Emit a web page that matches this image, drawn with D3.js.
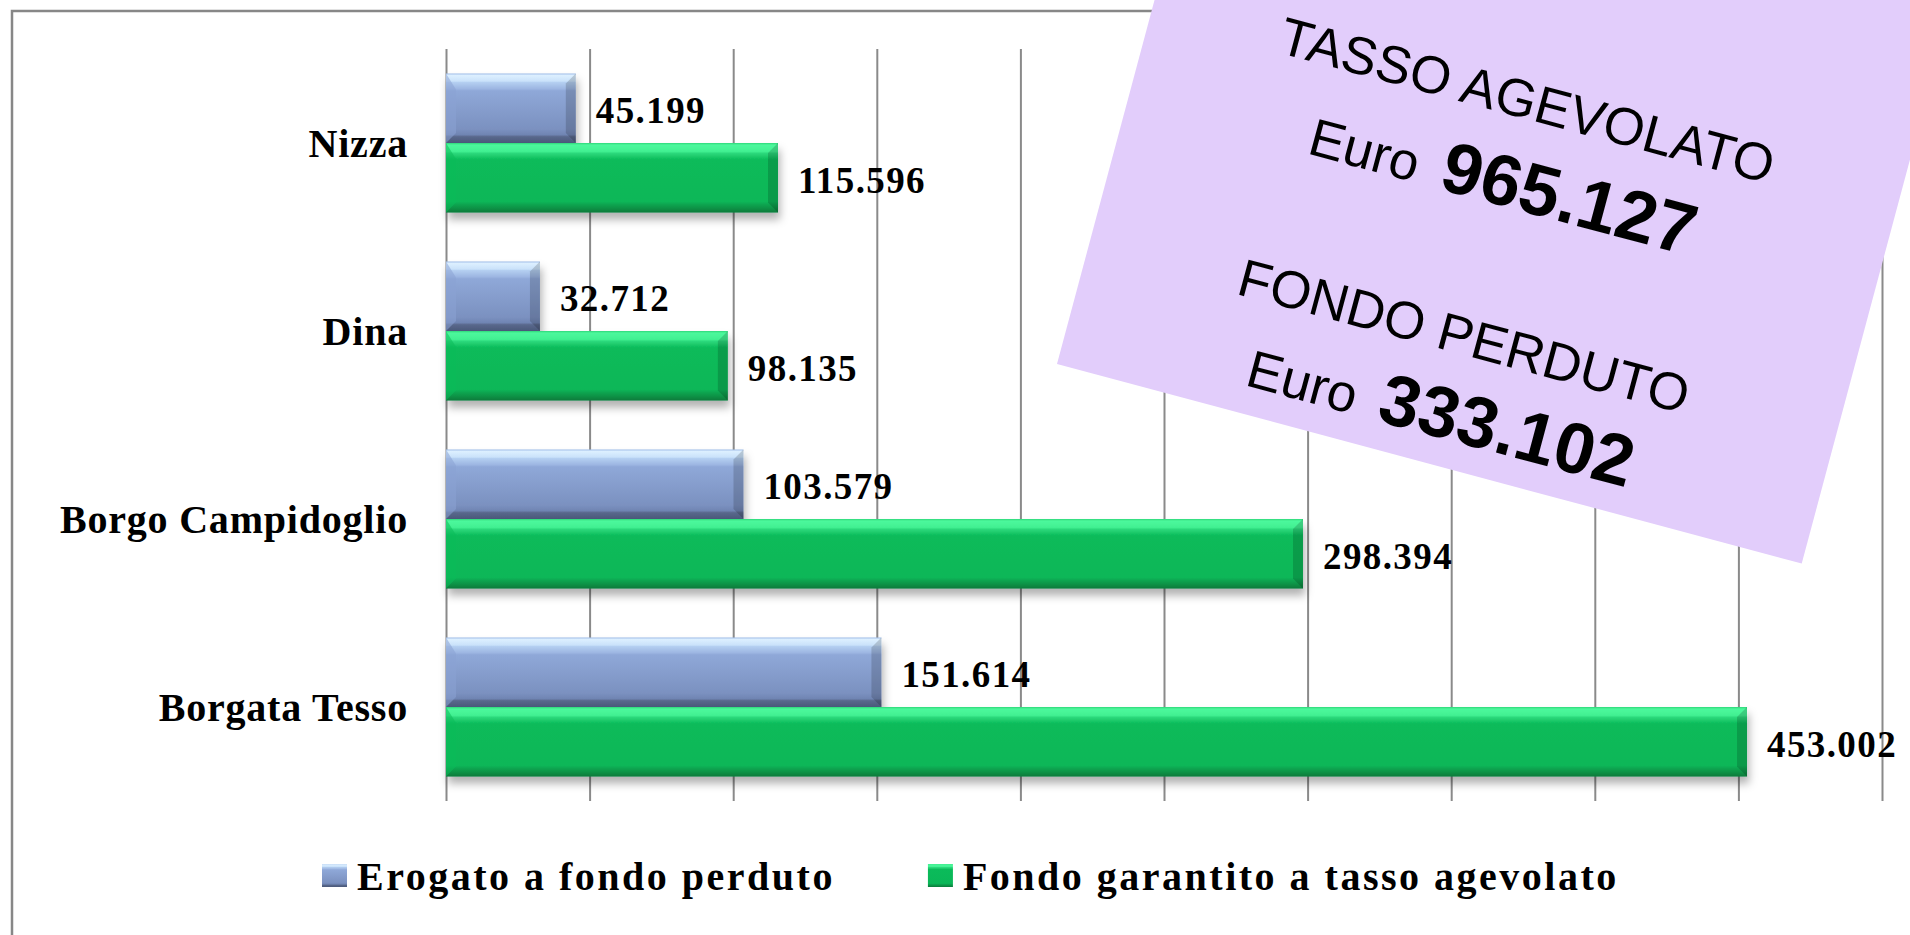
<!DOCTYPE html>
<html>
<head>
<meta charset="utf-8">
<script src="https://cdn.jsdelivr.net/npm/d3@7"></script>
<style>
  html, body { margin: 0; padding: 0; background: #fff; overflow: hidden; }
  svg { display: block; }
</style>
</head>
<body>
<svg id="chart" width="1910" height="935"></svg>
<script>
// data (euro)
const categories = ['Nizza', 'Dina', 'Borgo Campidoglio', 'Borgata Tesso'];
const seriesNames = ['Erogato a fondo perduto', 'Fondo garantito a tasso agevolato'];
const fondoPerduto = [45199, 32712, 103579, 151614];
const tassoAgevolato = [115596, 98135, 298394, 453002];
const xMax = 500000;

// callout text
const calloutTitles = ['TASSO AGEVOLATO', 'FONDO PERDUTO'];
const calloutTotals = ['965.127', '333.102'];

const svg = d3.select('#chart');
const itFmt = d3.formatLocale({decimal: ',', thousands: '.', grouping: [3], currency: ['€', '']}).format(',d');

const x = d3.scaleLinear().domain([0, xMax]).range([446, 1882]);
const y = d3.scaleBand().domain(categories).range([49, 801]).paddingInner(0.26).paddingOuter(0.13);
const ys = d3.scaleBand().domain(seriesNames).range([0, y.bandwidth()]);

const serifFont = '"Liberation Serif", "Times New Roman", serif';

// gradients + shadow
const defs = svg.append('defs');
const grads = [
  {id: 'gBlue', stops: [[0,'#a3bfe8'],[3,'#dcefff'],[11,'#cae2fa'],[13,'#b4cff1'],[22,'#9db6e2'],[25,'#8fa8d8'],[80,'#7b91c0'],[88,'#7085b3'],[91,'#58688c'],[100,'#4b597a']]},
  {id: 'gGreen', stops: [[0,'#2fd87a'],[3,'#4cf89c'],[12,'#42f092'],[15,'#2bd87b'],[21,'#16c565'],[24,'#0bbb5a'],[84,'#0ab758'],[88,'#0ca651'],[94,'#0a9145'],[100,'#0a7a3b']]}
];
grads.forEach(g => {
  defs.append('linearGradient').attr('id', g.id).attr('x1', 0).attr('y1', 0).attr('x2', 0).attr('y2', 1)
    .selectAll('stop').data(g.stops).join('stop')
    .attr('offset', d => d[0] + '%').attr('stop-color', d => d[1]);
});
const seriesFill = ['url(#gBlue)', 'url(#gGreen)'];
const seriesMid = ['#8ba3d3', '#0bbb5a'];

const f = defs.append('filter').attr('id', 'shadow').attr('x', '-5%').attr('y', '-20%').attr('width', '115%').attr('height', '160%');
f.append('feDropShadow').attr('dx', 2).attr('dy', 7).attr('stdDeviation', 4)
  .attr('flood-color', '#000').attr('flood-opacity', 0.3);

// outer frame
svg.append('rect').attr('x', 12).attr('y', 11).attr('width', 2200).attr('height', 2000)
  .attr('fill', 'none').attr('stroke', '#878787').attr('stroke-width', 2.5);

// vertical gridlines
const grid = svg.append('g').attr('transform', 'translate(0,49)')
  .call(d3.axisTop(x).ticks(10).tickSize(-(801 - 49)).tickFormat(''));
grid.select('.domain').remove();
grid.selectAll('.tick line').attr('stroke', '#8a8a8a').attr('stroke-width', 2);

// bars
const bars = categories.flatMap((c, i) => [
  {c, s: 0, v: fondoPerduto[i]},
  {c, s: 1, v: tassoAgevolato[i]}
]);

const bg = svg.append('g').selectAll('g').data(bars).join('g');
bg.append('rect')
  .attr('x', x(0)).attr('y', d => y(d.c) + ys(seriesNames[d.s]))
  .attr('width', d => x(d.v) - x(0)).attr('height', ys.bandwidth())
  .attr('fill', d => seriesFill[d.s]).attr('filter', 'url(#shadow)');
const bv = 10;
// right bevel
bg.append('polygon').attr('points', d => {
  const x1 = x(d.v), y0 = y(d.c) + ys(seriesNames[d.s]), y1 = y0 + ys.bandwidth();
  return [[x1 - bv, y0 + bv], [x1, y0], [x1, y1], [x1 - bv, y1 - bv]].join(' ');
}).attr('fill', '#000').attr('opacity', 0.16);
// left bevel
bg.append('polygon').attr('points', d => {
  const x0 = x(0), y0 = y(d.c) + ys(seriesNames[d.s]), y1 = y0 + ys.bandwidth();
  return [[x0, y0], [x0 + bv, y0 + bv * 1.6], [x0 + bv, y1 - bv], [x0, y1]].join(' ');
}).attr('fill', d => seriesMid[d.s]).attr('opacity', 0.55);

// value labels
svg.append('g').selectAll('text').data(bars).join('text')
  .attr('x', d => x(d.v) + 20)
  .attr('y', d => y(d.c) + ys(seriesNames[d.s]) + ys.bandwidth() / 2)
  .attr('dy', '0.4em')
  .attr('font-family', serifFont).attr('font-size', 37).attr('font-weight', 'bold')
  .attr('letter-spacing', 1.4).attr('fill', '#000')
  .text(d => itFmt(d.v));

// category labels
const yAxis = svg.append('g').attr('transform', `translate(${x(0)},0)`)
  .call(d3.axisLeft(y).tickSize(0).tickPadding(38));
yAxis.select('.domain').remove();
yAxis.selectAll('text')
  .attr('font-family', serifFont).attr('font-size', 40).attr('font-weight', 'bold')
  .attr('letter-spacing', 0.8).attr('fill', '#000').attr('dy', '0.35em');

// legend
const legend = svg.append('g').attr('transform', 'translate(322,864)');
let lx = 0;
seriesNames.forEach((s, i) => {
  const it = legend.append('g').attr('transform', `translate(${lx},0)`);
  it.append('rect').attr('width', 25).attr('height', 23).attr('fill', seriesFill[i]);
  const t = it.append('text').attr('x', 35).attr('y', 26)
    .attr('font-family', serifFont).attr('font-size', 40).attr('font-weight', 'bold')
    .attr('letter-spacing', 2.5).attr('fill', '#000').text(s);
  lx += 35 + t.node().getComputedTextLength() + 93;
});

// callout box
const box = svg.append('g').attr('transform', 'translate(1057,364) rotate(15)');
box.append('rect').attr('x', 0).attr('y', -620).attr('width', 771).attr('height', 620).attr('fill', '#e2cdfb');
const lineY = [[-358, -268], [-114, -28]];
calloutTitles.forEach((title, i) => {
  box.append('text').attr('x', 386).attr('y', lineY[i][0]).attr('text-anchor', 'middle')
    .attr('font-family', '"Liberation Sans", Arial, sans-serif').attr('font-size', 53).attr('fill', '#000')
    .text(title);
  const t = box.append('text').attr('x', 384).attr('y', lineY[i][1]).attr('text-anchor', 'middle')
    .attr('font-family', '"Liberation Sans", Arial, sans-serif').attr('fill', '#000');
  t.append('tspan').attr('font-size', 53).text('Euro');
  t.append('tspan').attr('dx', 24).attr('font-size', 72).attr('font-weight', 'bold').text(calloutTotals[i]);
});
</script>
</body>
</html>
